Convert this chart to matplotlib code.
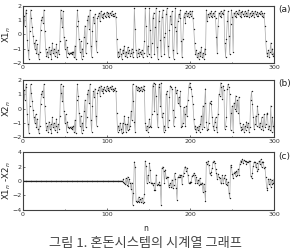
import numpy as np
import matplotlib
matplotlib.use("Agg")
import matplotlib.pyplot as plt
from matplotlib.ticker import MultipleLocator

# time index
n = np.arange(1, 301)

# X1_n
x1 = [1.3, 0.6, 1.5, 1.7, -0.4, -1.1, -1.7, 0.2, 1.7, 1.1,
      0.5, -0.1, -0.6, -1.0, -0.4, -1.3, -0.7, -1.4, -1.7, -1.2,
      0.3, 1.0, 1.2, 0.8, 1.7, 0.2, -1.0, -1.5, -1.2, -1.6,
      -0.9, -1.4, -1.1, -1.7, -0.6, -1.3, -1.0, -1.5, -1.2, -0.7,
      -1.6, -1.1, -1.4, -0.5, 1.7, 1.1, 0.5, 1.6, -0.2, -1.0,
      -0.4, -1.6, -0.9, -1.3, -1.35, -1.28, -1.32, -1.25, -1.4, -1.2,
      -1.6, -0.8, -1.7, 0.6, 1.7, 0.9, -0.3, -1.2, -0.5, -1.7,
      -1.0, -1.5, -0.2, 0.6, -1.3, -0.6, 1.0, 1.3, 0.4, 1.7,
      -0.8, -1.6, 0.2, 1.2, 0.8, 1.4, -0.5, -1.2, 1.1, 1.3,
      1.5, 0.9, 1.6, 1.2, 1.4, 1.1, 1.5, 1.3, 1.2, 1.55,
      1.3, 1.45, 1.2, 1.5, 1.35, 1.6, 1.25, 1.4, 1.3, 1.45,
      1.2, -0.3, -1.6, -1.2, -1.5, -1.0, -1.4, -1.7, -1.1, -1.3,
      -0.8, -1.5, -1.2, -1.6, -0.9, -1.3, -1.1, -1.5, -1.3, -1.0,
      -1.6, -1.2, 1.8, 0.4, -1.1, -1.6, -1.3, -1.0, -1.5, -1.2,
      -1.4, -1.1, -1.6, -1.3, -0.5, 1.8, 0.6, -1.5, -0.8, -1.4,
      1.8, 0.3, -1.6, -0.6, 1.1, 1.5, -1.4, 0.5, 1.8, -0.9,
      -1.7, 0.9, 1.6, -0.4, -1.5, 1.2, 1.7, -0.2, -1.4, 0.1,
      1.4, 1.8, -0.8, -1.6, 0.3, 1.3, 0.7, 1.6, -1.1, -1.7,
      0.5, 1.8, 0.2, -1.3, 0.9, 1.4, 1.1, 1.7, -0.5, -1.6,
      -0.3, 1.2, 1.5, 0.8, 1.6, 1.3, 1.5, 1.2, 1.6, 1.4,
      1.3, 1.6, 1.1, 0.4, -0.6, -1.4, -1.1, -1.6, -1.3, -1.7,
      -1.2, -1.5, -0.9, -1.6, -1.3, -1.7, -1.0, -1.4, 1.7, 0.9,
      1.4, 1.2, 1.5, 1.3, 1.6, 1.2, 1.45, 1.3, 1.6, 1.1,
      -0.2, -1.3, 0.6, 1.5, 1.3, 1.6, 1.2, 1.5, 1.4, 1.7,
      -0.6, -1.6, -0.3, 0.9, 1.6, -0.1, -1.4, 0.7, 1.7, 1.2,
      -1.2, 1.5, 1.3, 1.6, 1.2, 1.5, 1.4, 1.7, 1.3, 1.55,
      1.2, 1.6, 1.4, 1.3, 1.6, 1.25, 1.5, 1.3, 1.7, 1.2,
      1.45, 1.3, 1.6, 1.35, 1.5, 1.2, 1.6, 1.4, 1.3, 1.55,
      1.25, 1.5, 1.4, 1.6, 1.3, 1.5, 1.2, 1.45, 0.6, -0.5,
      -1.3, -1.5, -1.1, -1.6, -1.2, -0.6, -1.4, -1.0, -1.5, -1.3]

# X2_n: same as X1 up to n=118
x2 = x1[:118] + [
      -1.0, -1.6,
      -0.5, -1.1, -1.6, -1.1, -1.5, -0.6, -1.4, -1.2, -0.2, -0.8,
      1.7, 0.5, -0.9, -1.6, 1.6, 1.3, 1.5, 1.2, 1.45, 1.3,
      1.5, 1.2, 1.4, 1.6, 1.3, -1.0, -1.5, -1.2, -1.6, -1.3,
      -0.7, -1.2, -1.3, -0.4, 1.6, 1.8, -0.2, 1.7, 0.9, -0.4,
      -1.3, 1.5, 1.7, 0.2, 1.8, -0.6, -0.3, -1.6, -1.2, -1.5,
      1.0, 1.2, -1.3, -0.8, 0.8, 1.6, 1.5, 1.4, -0.1, -1.2,
      -0.6, 1.5, 1.1, 1.3, 0.4, 0.8, 0.2, 1.2, -1.3, -1.2,
      -1.0, 0.1, -0.4, -1.2, 0.2, -0.5, 0.6, 1.5, 1.8, 1.5,
      1.4, 0.9, 0.3, -0.7, -1.4, -1.2, -1.6, -1.3, -1.5, -1.2,
      -1.6, -1.1, -0.5, -1.4, 0.2, -1.3, 0.4, 1.4, -0.9, -1.5,
      -1.4, -1.0, 0.4, 0.5, 0.3, -0.6, -1.2, -1.5, -0.9, -0.6,
      -1.3, -1.6, -0.4, 1.0, 0.9, 1.8, 1.5, 0.7, 1.6, 1.3,
      -1.4, -1.2, -0.6, 1.4, 1.7, 1.5, 1.0, -1.5, -0.3, 0.2,
      -1.6, 0.4, 0.0, 0.9, -0.2, 0.6, -0.3, 0.8, -1.0, -1.3,
      -1.5, -1.4, -1.1, -1.6, -1.2, -1.5, -0.9, -1.3, -1.0, -1.6,
      -1.3, 0.6, 1.2, 0.3, -0.6, -1.4, -1.1, -0.5, -1.2, 0.2,
      -0.4, -1.3, -1.0, -1.4, -0.6, -1.2, -1.5, -0.4, -1.3, -1.1,
      -0.4, -0.3, -1.4, -1.2, -1.5, 0.2, -1.6, -0.6, -1.2, -1.6]

x1 = np.array(x1)
x2 = np.array(x2)
diff = x1 - x2

series = [x1, x2, diff]
ylabels = [r'X1$_n$', r'X2$_n$', r'X1$_n$ -X2$_n$']
tags = ['(a)', '(b)', '(c)']
ylims = [(-2, 2), (-2, 2), (-4, 4)]
ysteps = [1, 1, 2]

fig = plt.figure(figsize=(2.91, 2.52), dpi=100)
boxes = [[0.079, 0.750, 0.863, 0.228],
         [0.079, 0.455, 0.863, 0.228],
         [0.079, 0.167, 0.863, 0.229]]

for i in range(3):
    ax = fig.add_axes(boxes[i])
    ax.plot(n, series[i], color='#a8a8a8', lw=0.5, marker='o', ms=1.0,
            mfc='#202020', mec='#202020', mew=0)
    ax.set_xlim(0, 300)
    ax.set_ylim(*ylims[i])
    ax.xaxis.set_major_locator(MultipleLocator(100))
    ax.xaxis.set_minor_locator(MultipleLocator(50))
    ax.yaxis.set_major_locator(MultipleLocator(ysteps[i]))
    ax.tick_params(which='both', direction='in', length=1.5, width=0.5,
                   labelsize=4.5, pad=1.2, colors='#333333')
    ax.tick_params(which='minor', length=1.0)
    for s in ax.spines.values():
        s.set_linewidth(0.8)
        s.set_color('#404040')
    # y label as a rotated figure text so it stays inside the canvas
    b = boxes[i]
    fig.text(0.024, b[1] + b[3] / 2, ylabels[i], rotation=90, fontsize=6.3,
             ha='center', va='center', color='#222222')
    ax.text(1.015, 0.93, tags[i], transform=ax.transAxes, fontsize=6.5,
            ha='left', va='center', color='#222222')

fig.text(0.502, 0.095, 'n', fontsize=5.5, ha='center', va='center',
         color='#222222')
fig.text(0.5, 0.032, '그림 1. 혼돈시스템의 시계열 그래프', fontsize=9.5,
         ha='center', va='center', color='#444444',
         family=['Noto Sans CJK KR', 'DejaVu Sans'])

fig.savefig('out.png', dpi=100)
